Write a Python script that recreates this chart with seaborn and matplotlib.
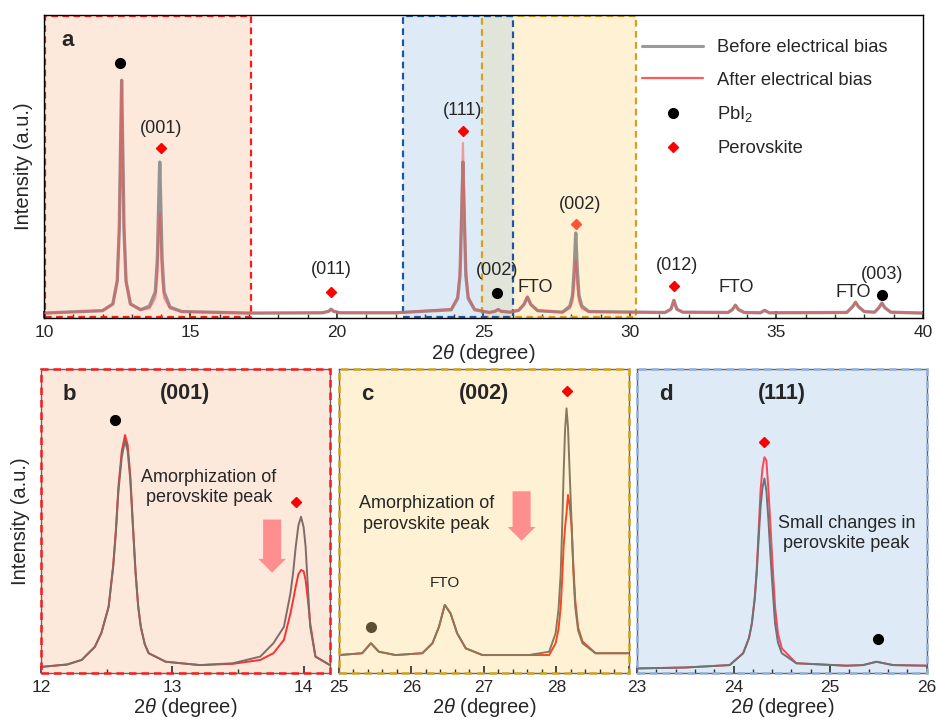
import matplotlib
matplotlib.use('Agg')
import matplotlib.pyplot as plt
import seaborn as sns
from matplotlib.patches import Rectangle
from matplotlib.lines import Line2D
from matplotlib.ticker import MultipleLocator

# Panel a: full XRD scan (2theta in degree, intensity in % of axis height)
a_x = [10.0, 12.0, 12.35, 12.50, 12.57, 12.61, 12.65, 12.69, 12.73, 12.80, 12.95, 13.30,
       13.60, 13.80, 13.87, 13.91, 13.95, 13.99, 14.03, 14.10, 14.30, 14.70,
       17.0, 19.5, 19.72, 19.80, 19.88, 20.10, 22.0,
       23.90, 24.12, 24.20, 24.26, 24.30, 24.34, 24.40, 24.48, 24.70,
       25.20, 25.40, 25.50, 25.60, 25.90, 26.20, 26.38, 26.50, 26.62, 26.85, 27.70,
       27.95, 28.04, 28.10, 28.15, 28.20, 28.26, 28.36, 28.60,
       31.20, 31.40, 31.50, 31.60, 31.80, 33.35, 33.50, 33.60, 33.70, 33.90, 34.45, 34.60, 34.75,
       37.40, 37.60, 37.70, 37.80, 38.00, 38.35, 38.50, 38.60, 38.70, 38.90, 40.00]
a_before = [1.7, 2.5, 4.7, 12.3, 29.7, 54.7, 78.5, 54.7, 29.7, 12.3, 4.7, 2.8,
            4.0, 8.7, 19.7, 35.7, 51.5, 35.7, 19.7, 8.7, 3.7, 2.2,
            1.7, 1.8, 2.3, 3.0, 2.3, 1.8, 1.8,
            2.8, 6.5, 14.0, 35.0, 51.5, 35.0, 14.0, 6.5, 2.8,
            1.9, 2.3, 2.9, 2.3, 2.0, 2.6, 4.5, 7.0, 4.5, 2.5, 2.0,
            4.0, 7.5, 16.5, 28.1, 16.5, 7.5, 4.0, 2.2,
            1.9, 3.0, 5.9, 3.0, 2.0, 1.9, 2.9, 4.3, 2.9, 1.9, 1.8, 2.6, 1.8,
            1.9, 3.8, 5.3, 3.8, 2.2, 2.0, 3.5, 5.0, 3.5, 2.0, 1.7]
a_after = [1.7, 2.5, 4.7, 12.3, 29.7, 54.7, 78.5, 54.7, 29.7, 12.3, 4.7, 2.8,
           3.2, 6.7, 13.7, 24.7, 34.7, 24.7, 13.7, 6.7, 3.2, 2.2,
           1.7, 1.8, 2.3, 3.0, 2.3, 1.8, 1.8,
           3.0, 7.2, 16.0, 40.0, 57.8, 40.0, 16.0, 7.2, 3.0,
           1.9, 2.3, 2.9, 2.3, 2.0, 2.6, 4.5, 7.0, 4.5, 2.5, 2.0,
           3.2, 5.6, 11.5, 19.1, 11.5, 5.6, 3.2, 2.1,
           1.9, 3.0, 5.9, 3.0, 2.0, 1.9, 2.9, 4.3, 2.9, 1.9, 1.8, 2.6, 1.8,
           1.9, 3.8, 5.3, 3.8, 2.2, 2.0, 3.5, 5.0, 3.5, 2.0, 1.7]

# Panel b: (001) region
b_x = [12.00, 12.20, 12.31, 12.41, 12.46, 12.515, 12.55, 12.57, 12.59, 12.615, 12.64, 12.66,
       12.68, 12.70, 12.72, 12.74, 12.76, 12.79, 12.82, 12.95, 13.21, 13.46, 13.67, 13.77,
       13.85, 13.90, 13.92, 13.94, 13.96, 13.98, 14.00, 14.015, 14.03, 14.05, 14.09, 14.20]
b_before = [2.0, 2.8, 4.3, 8.6, 13.2, 21.8, 35.0, 46.0, 60.0, 71.0, 76.6, 73.0,
            63.5, 48.0, 32.8, 22.0, 15.2, 9.5, 6.5, 3.7, 2.6, 3.2, 5.4, 9.8,
            15.2, 26.3, 33.0, 41.6, 48.5, 51.4, 48.0, 41.6, 30.0, 15.2, 5.4, 2.6]
b_after = [2.0, 2.8, 4.3, 8.6, 13.2, 21.8, 35.5, 47.0, 61.5, 73.0, 78.3, 75.0,
           65.0, 49.0, 33.5, 22.0, 15.2, 9.5, 6.5, 3.7, 2.6, 3.0, 4.3, 6.5,
           10.9, 19.7, 24.0, 28.5, 32.5, 33.9, 33.5, 30.6, 25.0, 16.4, 5.4, 2.6]

# Panel c: (002) region
c_x = [25.00, 25.32, 25.44, 25.55, 25.78, 26.15, 26.29, 26.38, 26.46, 26.54, 26.63, 26.75, 26.98,
       27.62, 27.90, 27.99, 28.03, 28.06, 28.08, 28.10, 28.12, 28.14, 28.16, 28.185, 28.21,
       28.235, 28.26, 28.30, 28.36, 28.54, 29.00]
c_before = [5.9, 6.5, 9.8, 7.0, 5.9, 6.5, 9.8, 15.2, 22.4, 19.6, 13.1, 8.1, 5.9,
            5.9, 7.0, 13.1, 21.0, 32.8, 48.0, 65.7, 80.0, 87.1, 81.0, 65.0, 49.2,
            33.0, 21.8, 14.0, 9.8, 6.5, 6.5]
c_after = [5.9, 6.5, 9.8, 7.0, 5.9, 6.5, 9.8, 15.2, 22.4, 19.6, 13.1, 8.1, 5.9,
           5.9, 5.9, 9.8, 14.5, 21.8, 31.0, 41.6, 48.0, 52.5, 58.6, 55.0, 48.1,
           35.0, 24.0, 15.0, 10.4, 6.5, 6.5]

# Panel d: (111) region
d_x = [23.00, 23.50, 23.96, 24.10, 24.16, 24.19, 24.22, 24.24, 24.26, 24.28, 24.30, 24.32,
       24.34, 24.36, 24.38, 24.40, 24.43, 24.46, 24.50, 24.65, 25.17, 25.34, 25.48, 25.65, 26.00]
d_before = [1.5, 1.8, 2.6, 6.5, 11.5, 16.3, 24.5, 32.8, 44.0, 54.7, 61.0, 64.0,
            60.0, 51.0, 40.0, 30.0, 16.3, 10.0, 6.5, 3.2, 2.4, 2.6, 3.7, 2.6, 2.4]
d_after = [1.5, 1.8, 2.6, 6.5, 11.5, 16.3, 25.0, 34.0, 47.0, 60.2, 67.5, 71.0,
           70.0, 61.0, 50.0, 38.0, 21.8, 13.0, 8.1, 3.2, 2.4, 2.6, 3.7, 2.6, 2.4]

PEACH = '#fde9dc'
BLUE = '#deebf7'
YELLOW = '#fff2d4'
OVERLAP = '#e1e5d9'
RED_EDGE = '#ff1a1a'
BLUE_EDGE = '#1f56a3'
GOLD_EDGE = '#d4a020'
ARROW = '#ff8f8f'

sns.set_theme(style='white')
plt.rcParams['font.family'] = ['Liberation Sans', 'DejaVu Sans']
plt.rcParams['mathtext.fontset'] = 'custom'
plt.rcParams['mathtext.rm'] = 'Liberation Sans'
plt.rcParams['mathtext.it'] = 'Liberation Sans:italic'

fig = plt.figure(figsize=(9.38, 7.2), dpi=100)
ax_a = fig.add_axes([0.0469, 0.558, 0.937, 0.421])
ax_b = fig.add_axes([0.0437, 0.0653, 0.308, 0.422])
ax_c = fig.add_axes([0.3614, 0.0653, 0.309, 0.422])
ax_d = fig.add_axes([0.679, 0.0653, 0.309, 0.422])

XLABEL = '2$\\it{\\theta}$ (degree)'


def style_ticks(ax, major, minor):
    ax.xaxis.set_major_locator(MultipleLocator(major))
    ax.xaxis.set_minor_locator(MultipleLocator(minor))
    ax.tick_params(axis='x', which='both', direction='in', bottom=True, labelsize=12.5,
                   pad=5, color='#333333')
    ax.tick_params(axis='x', which='major', length=5)
    ax.tick_params(axis='x', which='minor', length=3)
    ax.set_yticks([])
    ax.set_ylim(0, 100)


# ---- panel a
ax = ax_a
ax.axvspan(10, 17.05, facecolor=PEACH, lw=0, zorder=0)
ax.axvspan(22.25, 26.0, facecolor=BLUE, lw=0, zorder=0)
ax.axvspan(24.95, 30.2, facecolor=YELLOW, lw=0, zorder=0)
ax.axvspan(24.95, 26.0, facecolor=OVERLAP, lw=0, zorder=0.5)
ax.axvspan(10.03, 17.05, ymin=0.004, ymax=0.996, fill=False, edgecolor=RED_EDGE,
           ls=(0, (3, 2)), lw=1.6, zorder=1)
ax.axvspan(24.95, 30.2, ymin=0.004, ymax=0.996, fill=False, edgecolor=GOLD_EDGE,
           ls=(0, (3, 2)), lw=1.6, zorder=1)
ax.axvspan(22.25, 26.0, ymin=0.004, ymax=0.996, fill=False, edgecolor=BLUE_EDGE,
           ls=(0, (3, 2)), lw=1.6, zorder=1.2)
sns.lineplot(x=a_x, y=a_before, ax=ax, color='#8a8a8a', lw=2.4, alpha=0.9,
             estimator=None, sort=False, zorder=2)
sns.lineplot(x=a_x, y=a_after, ax=ax, color='#ff4a4a', lw=1.6, alpha=0.5,
             estimator=None, sort=False, zorder=3)
ax.set_xlim(10, 40)
style_ticks(ax, 5, 1)
for s in ax.spines.values():
    s.set_color('black')
    s.set_linewidth(1.0)
ax.set_xlabel(XLABEL, fontsize=14.5, labelpad=1)
ax.set_ylabel('Intensity (a.u.)', fontsize=14.5, labelpad=8)
ax.text(0.02, 0.915, 'a', transform=ax.transAxes, fontsize=16, fontweight='bold',
        va='center', ha='left')

mk_circle = dict(marker='o', color='black', ms=7, ls='none', zorder=5)
mk_diamond = dict(marker='D', color='#ff0000', ms=5, ls='none', zorder=5)
lab = dict(fontsize=13, ha='center', va='center', zorder=6)
ax.plot([12.6], [84.2], **mk_circle)
ax.plot([14.0], [56.1], **mk_diamond)
ax.text(14.0, 62.6, '(001)', **lab)
ax.plot([19.8], [8.6], **mk_diamond)
ax.text(19.8, 16.2, '(011)', **lab)
ax.plot([24.3], [61.7], **mk_diamond)
ax.text(24.3, 68.4, '(111)', **lab)
ax.plot([25.46], [8.3], **mk_circle)
ax.text(25.46, 15.8, '(002)', **lab)
ax.text(26.76, 10.2, 'FTO', **lab)
ax.plot([28.16], [31.0], marker='D', color='#ff5535', ms=5, ls='none', zorder=5)
ax.text(28.29, 37.4, '(002)', **lab)
ax.plot([31.5], [10.6], **mk_diamond)
ax.text(31.62, 17.5, '(012)', **lab)
ax.text(33.62, 10.2, 'FTO', **lab)
ax.text(37.62, 8.6, 'FTO', **lab)
ax.plot([38.6], [7.6], **mk_circle)
ax.text(38.6, 14.3, '(003)', **lab)

handles = [Line2D([], [], color='#999999', lw=2.2),
           Line2D([], [], color='#ff5a5a', lw=1.6),
           Line2D([], [], marker='o', color='black', ms=7, ls='none'),
           Line2D([], [], marker='D', color='#ff0000', ms=5, ls='none')]
labels = ['Before electrical bias', 'After electrical bias', 'PbI$_2$', 'Perovskite']
ax.legend(handles, labels, loc='upper left', bbox_to_anchor=(0.662, 0.975), frameon=False,
          fontsize=13.2, handlelength=3.3, handletextpad=0.8, labelspacing=0.85)

# ---- lower panels
panels = [
    (ax_b, b_x, b_before, b_after, PEACH, RED_EDGE, '#7f6c67', '#ff3030', (12, 14.2), 'b', '(001)'),
    (ax_c, c_x, c_before, c_after, YELLOW, GOLD_EDGE, '#857a5d', '#ff4422', (25, 29), 'c', '(002)'),
    (ax_d, d_x, d_before, d_after, BLUE, '#8fb0dc', '#6c7377', '#ff4455', (23, 26), 'd', '(111)'),
]
for ax, xs, yb, ya, face, edge, c_bef, c_aft, xlim, letter, hkl in panels:
    ax.set_facecolor(face)
    sns.lineplot(x=xs, y=ya, ax=ax, color=c_aft, lw=1.4, estimator=None, sort=False, zorder=2)
    sns.lineplot(x=xs, y=yb, ax=ax, color=c_bef, lw=1.4, estimator=None, sort=False, zorder=3)
    ax.set_xlim(*xlim)
    for s in ax.spines.values():
        s.set_color('#666666')
        s.set_linewidth(1.0)
    ax.add_patch(Rectangle((0, 0), 1, 1, transform=ax.transAxes, fill=False, edgecolor=edge,
                           ls=(0, (3, 2)), lw=1.8, clip_on=False, zorder=4))
    ax.set_xlabel(XLABEL, fontsize=14.5, labelpad=1)
    ax.text(0.075, 0.915, letter, transform=ax.transAxes, fontsize=16, fontweight='bold',
            va='center', ha='left')
    ax.text(0.5, 0.92, hkl, transform=ax.transAxes, fontsize=15.5, fontweight='bold',
            va='center', ha='center')

style_ticks(ax_b, 1, 0.5)
style_ticks(ax_c, 1, 0.2)
style_ticks(ax_d, 1, 0.2)
ax_c.set_xticks([25, 26, 27, 28, 29])
ax_c.set_xticklabels(['25', '26', '27', '28', ''])
ax_b.set_ylabel('Intensity (a.u.)', fontsize=14.5, labelpad=8)

ann = dict(fontsize=13, ha='center', va='center', linespacing=1.25, zorder=6)
arrow = dict(arrowstyle='simple,head_length=1.0,head_width=2.0,tail_width=1.3',
             color=ARROW, lw=0, mutation_scale=10, shrinkA=0, shrinkB=0)

ax_b.plot([12.56], [83.2], **mk_circle)
ax_b.plot([13.94], [56.3], **mk_diamond)
ax_b.text(13.28, 61.0, 'Amorphization of\nperovskite peak', **ann)
ax_b.annotate('', xy=(13.76, 33.0), xytext=(13.76, 50.5), arrowprops=arrow, zorder=5)

ax_c.plot([25.44], [15.2], marker='o', color='#5b5033', ms=7, ls='none', zorder=5)
ax_c.plot([28.14], [92.8], **mk_diamond)
ax_c.text(26.46, 29.7, 'FTO', fontsize=11, ha='center', va='center')
ax_c.text(26.21, 52.3, 'Amorphization of\nperovskite peak', **ann)
ax_c.annotate('', xy=(27.52, 43.5), xytext=(27.52, 59.8), arrowprops=arrow, zorder=5)

ax_d.plot([24.32], [76.1], **mk_diamond)
ax_d.plot([25.5], [11.1], **mk_circle)
ax_d.text(25.17, 45.9, 'Small changes in\nperovskite peak', **ann)

fig.savefig('out.png', dpi=100)
